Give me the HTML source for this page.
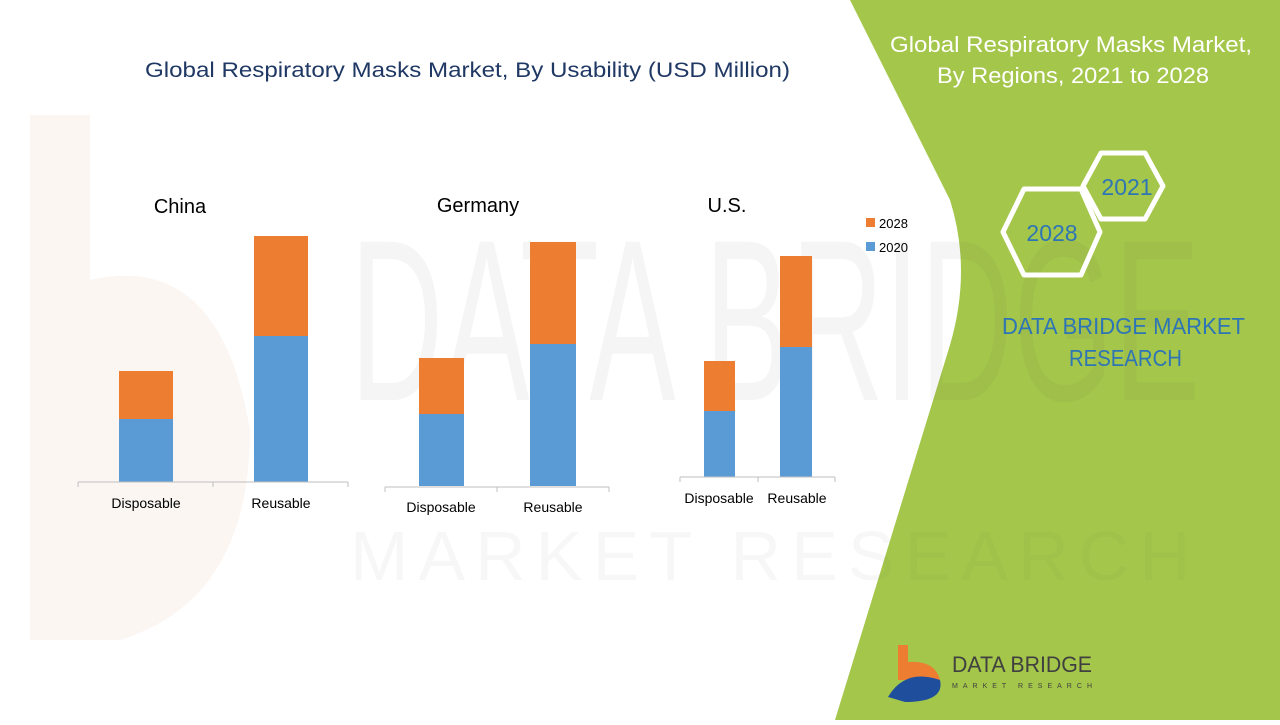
<!DOCTYPE html>
<html><head><meta charset="utf-8"><style>
body{margin:0;width:1280px;height:720px;overflow:hidden;background:#fff;font-family:"Liberation Sans",sans-serif}
</style></head><body>
<svg width="1280" height="720" xmlns="http://www.w3.org/2000/svg" font-family="Liberation Sans, sans-serif">
<rect width="1280" height="720" fill="#fff"/>
<path d="M30 115 L90 115 L90 280 Q220 250 250 430 Q250 600 120 640 L30 640 Z" fill="#f6e6dc" opacity="0.35"/>
<!-- green panel -->
<path d="M850 0 L1280 0 L1280 720 L835 720 L950 345 Q972 270 950 200 Z" fill="#a4c64a"/>
<g opacity="0.05" fill="#555" font-size="230">
<text x="350" y="400" textLength="850" lengthAdjust="spacingAndGlyphs">DATA BRIDGE</text>
</g>
<g opacity="0.04" fill="#555" font-size="70"><text x="350" y="580" textLength="840" lengthAdjust="spacing">MARKET RESEARCH</text></g>
<text x="890" y="52" fill="#fff" font-size="22" textLength="362" lengthAdjust="spacingAndGlyphs">Global Respiratory Masks Market,</text>
<text x="937" y="83" fill="#fff" font-size="22" textLength="272" lengthAdjust="spacingAndGlyphs">By Regions, 2021 to 2028</text>
<polygon points="1101,153 1145,153 1163,186 1145,219 1101,219 1083,186" fill="none" stroke="#fff" stroke-width="5" stroke-linejoin="round"/>
<polygon points="1024,189 1081,189 1100,232 1081,275 1024,275 1003,232" fill="none" stroke="#fff" stroke-width="5" stroke-linejoin="round"/>
<text x="1127" y="195" fill="#2e75b6" font-size="23" text-anchor="middle">2021</text>
<text x="1052" y="241" fill="#2e75b6" font-size="23" text-anchor="middle">2028</text>
<text x="1002" y="334" fill="#2e75b6" font-size="23" textLength="243" lengthAdjust="spacingAndGlyphs">DATA BRIDGE MARKET</text>
<text x="1069" y="366" fill="#2e75b6" font-size="23" textLength="113" lengthAdjust="spacingAndGlyphs">RESEARCH</text>
<!-- logo -->
<path d="M898 645 L908 645 L908 662 Q935 660 940 680 L898 680 Z" fill="#ed7d31"/>
<path d="M888 697 Q905 668 940 680 Q945 702 905 702 Z" fill="#1f4e9c"/>
<text x="952" y="672" fill="#404040" font-size="22" textLength="140" lengthAdjust="spacingAndGlyphs">DATA BRIDGE</text>
<text x="952" y="688" fill="#404040" font-size="7" textLength="140" lengthAdjust="spacing">MARKET RESEARCH</text>
<!-- title -->
<text x="145" y="77" fill="#1f3864" font-size="21" textLength="645" lengthAdjust="spacingAndGlyphs">Global Respiratory Masks Market, By Usability (USD Million)</text>
<!-- China -->
<text x="180" y="213" font-size="20" fill="#000" text-anchor="middle">China</text>
<rect x="119" y="419" width="54" height="63" fill="#5b9bd5"/><rect x="119" y="371" width="54" height="48" fill="#ed7d31"/>
<rect x="254" y="336" width="54" height="146" fill="#5b9bd5"/><rect x="254" y="236" width="54" height="100" fill="#ed7d31"/>
<path d="M78 482 H348 M78 482 V487 M213 482 V487 M348 482 V487" stroke="#bfbfbf"/>
<text x="146" y="508" font-size="14" text-anchor="middle">Disposable</text>
<text x="281" y="508" font-size="14" text-anchor="middle">Reusable</text>
<!-- Germany -->
<text x="478" y="212" font-size="20" fill="#000" text-anchor="middle">Germany</text>
<rect x="419" y="414" width="45" height="72" fill="#5b9bd5"/><rect x="419" y="358" width="45" height="56" fill="#ed7d31"/>
<rect x="530" y="344" width="46" height="142" fill="#5b9bd5"/><rect x="530" y="242" width="46" height="102" fill="#ed7d31"/>
<path d="M385 487 H609 M385 487 V492 M497 487 V492 M609 487 V492" stroke="#bfbfbf"/>
<text x="441" y="512" font-size="14" text-anchor="middle">Disposable</text>
<text x="553" y="512" font-size="14" text-anchor="middle">Reusable</text>
<!-- US -->
<text x="727" y="212" font-size="20" fill="#000" text-anchor="middle">U.S.</text>
<rect x="704" y="411" width="31" height="66" fill="#5b9bd5"/><rect x="704" y="361" width="31" height="50" fill="#ed7d31"/>
<rect x="780" y="347" width="32" height="130" fill="#5b9bd5"/><rect x="780" y="256" width="32" height="91" fill="#ed7d31"/>
<path d="M680 477 H835 M680 477 V482 M758 477 V482 M835 477 V482" stroke="#bfbfbf"/>
<text x="719" y="503" font-size="14" text-anchor="middle">Disposable</text>
<text x="797" y="503" font-size="14" text-anchor="middle">Reusable</text>
<!-- legend -->
<rect x="866" y="218" width="9" height="9" fill="#ed7d31"/><text x="879" y="228" font-size="13">2028</text>
<rect x="866" y="242" width="9" height="9" fill="#5b9bd5"/><text x="879" y="252" font-size="13">2020</text>
</svg>
</body></html>
